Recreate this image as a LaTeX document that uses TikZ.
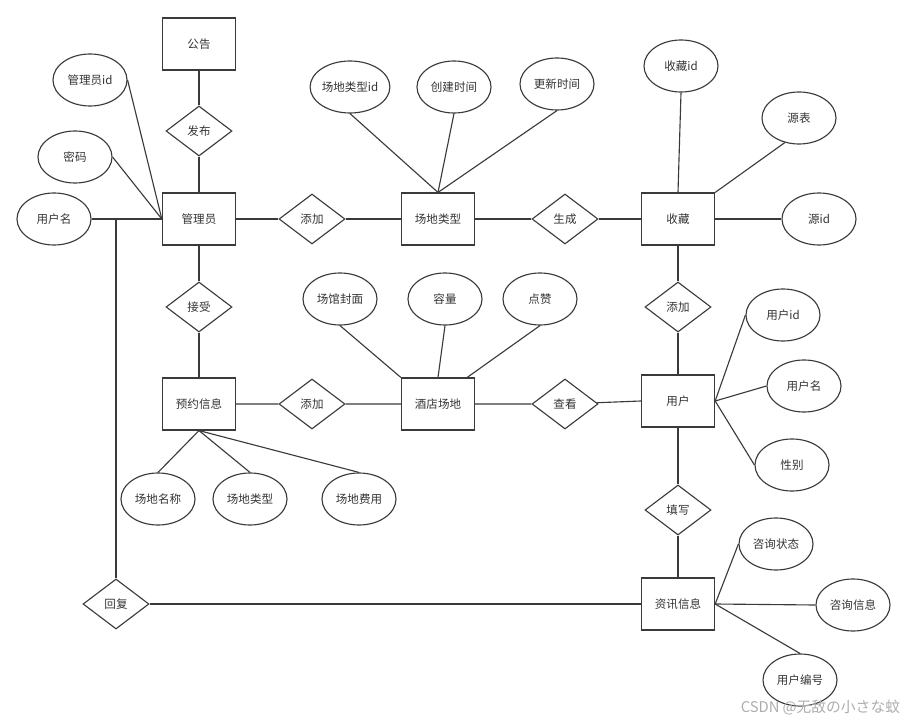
\documentclass[tikz,border=0pt]{standalone}
\usepackage{fontspec}
\setmainfont{Noto Sans CJK SC}
\usepackage{tikz}
\usetikzlibrary{shapes.geometric, calc}
\definecolor{erline}{HTML}{3A3A3A}
\definecolor{ertext}{HTML}{333333}
\definecolor{markgray}{HTML}{ADADAD}

\begin{document}
\begin{tikzpicture}[
    x=0.025cm, y=-0.025cm,
    every node/.style={font=\fontsize{8.2}{10}\selectfont, text=ertext},
    entity/.style={draw=erline, rectangle, minimum width=1.83cm, minimum height=1.3cm, line width=0.8pt, inner sep=0pt},
    attr/.style={draw=erline, ellipse, minimum width=1.85cm, minimum height=1.3cm, line width=0.8pt, inner sep=0pt},
    rel/.style={draw=erline, diamond, minimum width=1.65cm, minimum height=1.25cm, line width=0.8pt, inner sep=0pt},
    link/.style={draw=erline, line width=0.8pt}
]
    \useasboundingbox (0,0) rectangle (907,722);

    \node[entity] (notice) at (199,44) {公告};
    \node[rel] (publish) at (199,131) {发布};
    \node[entity] (admin) at (199,219) {管理员};
    \node[attr] (adminid) at (90,80) {管理员id};
    \node[attr] (pwd) at (75,157) {密码};
    \node[attr] (adminname) at (54,219) {用户名};
    \node[rel] (addtype) at (312,219) {添加};
    \node[entity] (sitetype) at (438,219) {场地类型};
    \node[attr] (typeid) at (350,87) {场地类型id};
    \node[attr] (created) at (454,87) {创建时间};
    \node[attr] (updated) at (557,84) {更新时间};
    \node[rel] (generate) at (565,219) {生成};
    \node[entity] (fav) at (678,219) {收藏};
    \node[attr] (favid) at (681,66) {收藏id};
    \node[attr] (srctable) at (799,118) {源表};
    \node[attr] (srcid) at (819,219) {源id};

    \node[rel] (accept) at (199,307) {接受};
    \node[entity] (booking) at (199,404) {预约信息};
    \node[rel] (addsite) at (312,404) {添加};
    \node[entity] (hotel) at (438,404) {酒店场地};
    \node[attr] (cover) at (340,299) {场馆封面};
    \node[attr] (capacity) at (445,299) {容量};
    \node[attr] (likes) at (540,299) {点赞};
    \node[rel] (view) at (565,404) {查看};
    \node[entity] (user) at (678,401) {用户};
    \node[rel] (addfav) at (678,307) {添加};
    \node[attr] (sitename) at (158,499) {场地名称};
    \node[attr] (bktype) at (250,499) {场地类型};
    \node[attr] (fee) at (359,499) {场地费用};
    \node[attr] (userid) at (783,315) {用户id};
    \node[attr] (username) at (804,386) {用户名};
    \node[attr] (gender) at (792,465) {性别};

    \node[rel] (fill) at (678,510) {填写};
    \node[entity] (consult) at (678,604) {资讯信息};
    \node[attr] (cstate) at (776,544) {咨询状态};
    \node[attr] (cinfo) at (853,605) {咨询信息};
    \node[attr] (cuser) at (800,680) {用户编号};
    \node[rel] (reply) at (116,604) {回复};

    \node[anchor=east, text=markgray, font=\fontsize{10.5}{12}\selectfont] (mark) at (905,708) {CSDN @无敌の小さな蚊};

    \draw[link] (notice) -- (publish) -- (admin);
    \draw[link] (admin) -- (accept) -- (booking);
    \draw[link] (admin) -- (addtype) -- (sitetype) -- (generate) -- (fav);
    \draw[link] (booking) -- (addsite) -- (hotel) -- (view) -- (user.west);
    \draw[link] (fav) -- (addfav) -- (user) -- (fill) -- (consult);
    \draw[link] (reply) -- (consult);
    \draw[link] (reply.north) |- (admin.west);

    \draw[link] (adminid.east) -- (admin.west);
    \draw[link] (pwd.east) -- (admin.west);
    \draw[link] (adminname.east) -- (admin.west);
    \draw[link] (typeid.south) -- (sitetype.north);
    \draw[link] (created.south) -- (sitetype.north);
    \draw[link] (updated.south) -- (sitetype.north);
    \draw[link] (favid.south) -- (fav.north);
    \draw[link] (srctable.-120) -- (fav.north east);
    \draw[link] (srcid.west) -- (fav.east);
    \draw[link] (cover.south) -- (hotel.north west);
    \draw[link] (capacity.south) -- (hotel.north);
    \draw[link] (likes.south) -- ([xshift=-0.2cm]hotel.north east);
    \draw[link] (booking.south) -- (sitename.north);
    \draw[link] (booking.south) -- (bktype.north);
    \draw[link] (booking.south) -- (fee.north);
    \draw[link] (user.east) -- (userid.west);
    \draw[link] (user.east) -- (username.west);
    \draw[link] (user.east) -- (gender.west);
    \draw[link] (consult.east) -- (cstate.west);
    \draw[link] (consult.east) -- (cinfo.west);
    \draw[link] (consult.east) -- (cuser.north);
\end{tikzpicture}
\end{document}
